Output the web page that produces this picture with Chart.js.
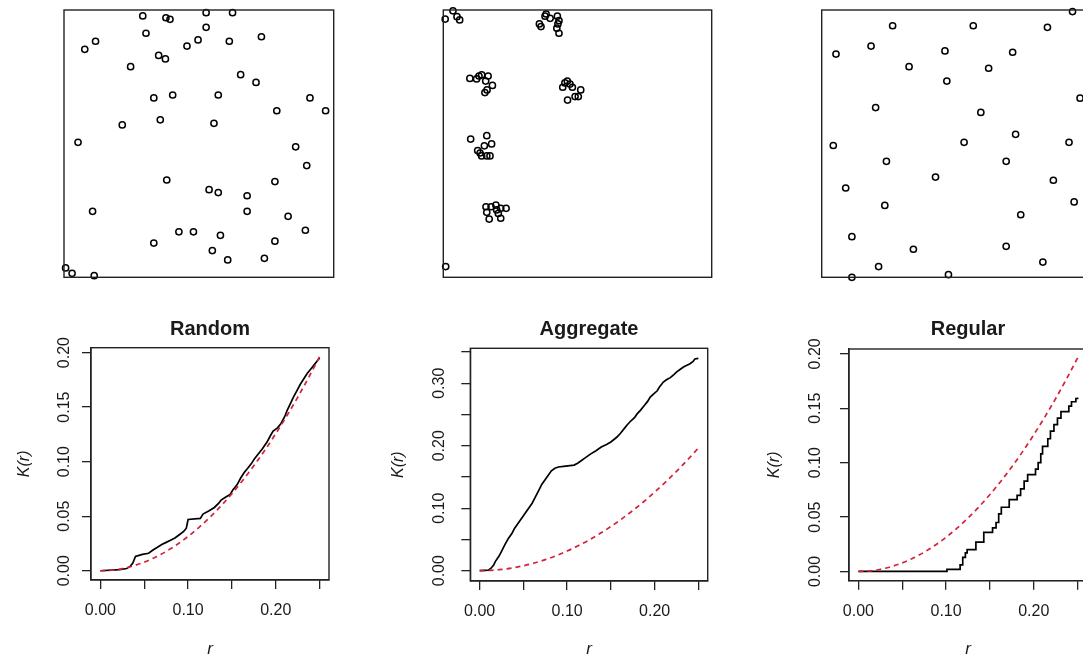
<!DOCTYPE html>
<html>
<head>
<meta charset="utf-8">
<script src="https://cdn.jsdelivr.net/npm/chart.js@4.4.1/dist/chart.umd.min.js"></script>
<style>
  html, body { margin: 0; padding: 0; background: #fff; }
  body { width: 1083px; height: 657px; overflow: hidden; position: relative; }
  canvas { position: absolute; }
</style>
</head>
<body>
<script>
// point patterns on the unit square
const randomX = [0.292, 0.378, 0.393, 0.527, 0.625, 0.527, 0.304, 0.117, 0.077, 0.497, 0.456, 0.613, 0.732, 0.351, 0.376, 0.247, 0.655, 0.712, 0.333, 0.403, 0.572, 0.912, 0.789, 0.970, 0.216, 0.357, 0.556, 0.052, 0.859, 0.900, 0.381, 0.782, 0.538, 0.572, 0.679, 0.106, 0.679, 0.831, 0.426, 0.480, 0.580, 0.895, 0.333, 0.782, 0.550, 0.607, 0.743, 0.006, 0.030, 0.112];
const randomY = [0.978, 0.971, 0.965, 0.990, 0.990, 0.935, 0.913, 0.883, 0.853, 0.888, 0.865, 0.883, 0.900, 0.830, 0.817, 0.788, 0.758, 0.729, 0.671, 0.682, 0.682, 0.671, 0.623, 0.623, 0.570, 0.589, 0.576, 0.505, 0.488, 0.418, 0.364, 0.358, 0.328, 0.317, 0.305, 0.247, 0.247, 0.228, 0.170, 0.170, 0.157, 0.176, 0.128, 0.135, 0.100, 0.065, 0.071, 0.035, 0.015, 0.006];

const aggregateX = [0.007, 0.036, 0.051, 0.061,
  0.379, 0.364, 0.358, 0.425, 0.431, 0.423, 0.431, 0.398, 0.383, 0.427,
  0.099, 0.124, 0.143, 0.158, 0.183, 0.163, 0.155, 0.133, 0.167,
  0.462, 0.445, 0.481, 0.512, 0.503, 0.491, 0.463, 0.453, 0.472,
  0.102, 0.162, 0.180, 0.153, 0.128, 0.143, 0.162, 0.174, 0.137,
  0.159, 0.178, 0.196, 0.214, 0.234, 0.162, 0.171, 0.205, 0.214, 0.199,
  0.009];
const aggregateY = [0.966, 0.997, 0.975, 0.963,
  0.977, 0.938, 0.948, 0.977, 0.960, 0.932, 0.913, 0.969, 0.985, 0.948,
  0.744, 0.742, 0.757, 0.734, 0.718, 0.701, 0.691, 0.753, 0.753,
  0.734, 0.711, 0.711, 0.701, 0.676, 0.676, 0.663, 0.727, 0.723,
  0.517, 0.530, 0.499, 0.492, 0.474, 0.454, 0.454, 0.454, 0.465,
  0.264, 0.264, 0.270, 0.258, 0.258, 0.243, 0.218, 0.239, 0.221, 0.252,
  0.040];

const regularX = [0.930, 0.263, 0.562, 0.837, 0.183, 0.053, 0.457, 0.708, 0.324, 0.619, 0.464, 0.958, 0.200, 0.590, 0.719, 0.043, 0.528, 0.917, 0.240, 0.684, 0.422, 0.089, 0.859, 0.234, 0.936, 0.738, 0.112, 0.340, 0.684, 0.820, 0.211, 0.112, 0.470];
const regularY = [0.994, 0.941, 0.941, 0.935, 0.865, 0.835, 0.847, 0.842, 0.788, 0.782, 0.734, 0.670, 0.635, 0.617, 0.535, 0.493, 0.505, 0.505, 0.434, 0.434, 0.375, 0.334, 0.363, 0.269, 0.282, 0.234, 0.152, 0.105, 0.116, 0.057, 0.040, 0.000, 0.010];

// K functions: theoretical (dashed) and observed
const rTheo = [0, 0.0125, 0.025, 0.0375, 0.05, 0.0625, 0.075, 0.0875, 0.1, 0.1125, 0.125, 0.1375, 0.15, 0.1625, 0.175, 0.1875, 0.2, 0.2125, 0.225, 0.2375, 0.25];
const kTheo = [0, 0.0005, 0.002, 0.0044, 0.0079, 0.0123, 0.0177, 0.0241, 0.0314, 0.0398, 0.0491, 0.0594, 0.0707, 0.0830, 0.0962, 0.1104, 0.1257, 0.1419, 0.1590, 0.1772, 0.1963];

const rRandom = [0, 0.022, 0.030, 0.034, 0.037, 0.040, 0.048, 0.055, 0.060, 0.066, 0.070, 0.075, 0.080, 0.085, 0.090, 0.095, 0.098, 0.100, 0.114, 0.117, 0.124, 0.130, 0.135, 0.138, 0.144, 0.148, 0.151, 0.156, 0.160, 0.164, 0.168, 0.172, 0.176, 0.180, 0.185, 0.190, 0.194, 0.197, 0.202, 0.206, 0.210, 0.213, 0.216, 0.220, 0.224, 0.228, 0.232, 0.236, 0.240, 0.244, 0.247, 0.250];
const kRandom = [0, 0.001, 0.002, 0.004, 0.007, 0.013, 0.015, 0.016, 0.019, 0.022, 0.024, 0.026, 0.028, 0.030, 0.033, 0.036, 0.039, 0.047, 0.048, 0.052, 0.055, 0.058, 0.062, 0.065, 0.068, 0.070, 0.074, 0.079, 0.085, 0.090, 0.094, 0.098, 0.103, 0.107, 0.112, 0.118, 0.124, 0.128, 0.131, 0.135, 0.141, 0.147, 0.152, 0.159, 0.165, 0.171, 0.176, 0.181, 0.185, 0.189, 0.192, 0.195];

const rAggregate = [0, 0.010, 0.013, 0.016, 0.018, 0.022, 0.025, 0.029, 0.033, 0.037, 0.040, 0.044, 0.048, 0.052, 0.056, 0.060, 0.063, 0.067, 0.071, 0.075, 0.078, 0.082, 0.086, 0.090, 0.096, 0.108, 0.112, 0.116, 0.121, 0.127, 0.133, 0.139, 0.145, 0.150, 0.157, 0.161, 0.165, 0.169, 0.173, 0.177, 0.180, 0.184, 0.188, 0.192, 0.195, 0.199, 0.203, 0.206, 0.210, 0.214, 0.218, 0.222, 0.225, 0.229, 0.233, 0.237, 0.240, 0.244, 0.246, 0.250];
const kAggregate = [0, 0.001, 0.004, 0.009, 0.015, 0.023, 0.031, 0.042, 0.052, 0.060, 0.068, 0.076, 0.084, 0.092, 0.100, 0.108, 0.116, 0.127, 0.138, 0.146, 0.152, 0.160, 0.164, 0.166, 0.167, 0.169, 0.172, 0.176, 0.181, 0.187, 0.192, 0.198, 0.202, 0.206, 0.214, 0.220, 0.227, 0.234, 0.240, 0.245, 0.251, 0.257, 0.264, 0.271, 0.278, 0.283, 0.288, 0.295, 0.302, 0.306, 0.309, 0.314, 0.318, 0.322, 0.326, 0.329, 0.331, 0.335, 0.339, 0.340];

const rRegular = [0, 0.101, 0.116, 0.119, 0.122, 0.124, 0.134, 0.143, 0.153, 0.157, 0.160, 0.163, 0.172, 0.181, 0.185, 0.189, 0.193, 0.202, 0.205, 0.208, 0.210, 0.216, 0.219, 0.223, 0.227, 0.231, 0.240, 0.243, 0.248, 0.250];
const kRegular = [0, 0.002, 0.006, 0.013, 0.017, 0.020, 0.027, 0.036, 0.040, 0.045, 0.053, 0.059, 0.066, 0.070, 0.076, 0.083, 0.089, 0.094, 0.100, 0.108, 0.115, 0.122, 0.129, 0.135, 0.141, 0.147, 0.152, 0.156, 0.159, 0.160];

// axis ticks
const rTicks = [0, 0.05, 0.10, 0.15, 0.20, 0.25];
const rTickLabels = ['0.00', '', '0.10', '', '0.20', ''];
const kTicksSmall = [0, 0.05, 0.10, 0.15, 0.20];
const kTickLabelsSmall = ['0.00', '0.05', '0.10', '0.15', '0.20'];
const kTicksLarge = [0, 0.05, 0.10, 0.15, 0.20, 0.25, 0.30, 0.35];
const kTickLabelsLarge = ['0.00', '', '0.10', '', '0.20', '', '0.30', ''];

const ink = '#1a1a1a';
const red = '#d2233c';
Chart.defaults.font.family = '"Liberation Sans", Arial, sans-serif';
Chart.defaults.color = ink;

const frame = {
  id: 'frame',
  afterDraw(chart) {
    const { ctx, chartArea: a } = chart;
    ctx.save();
    ctx.strokeStyle = '#222';
    ctx.lineWidth = 1.4;
    ctx.strokeRect(a.left, a.top, a.right - a.left, a.bottom - a.top);
    ctx.restore();
  }
};

function makeCanvas(left, top, w, h) {
  const c = document.createElement('canvas');
  c.width = w;
  c.height = h;
  c.style.left = left + 'px';
  c.style.top = top + 'px';
  c.style.width = w + 'px';
  c.style.height = h + 'px';
  document.body.appendChild(c);
  return c;
}

const toPts = (xs, ys) => xs.map((x, i) => ({ x, y: ys[i] }));

function drawPattern(xs, ys, p) {
  new Chart(makeCanvas(p.left, 0, p.w, 300), {
    type: 'scatter',
    data: {
      datasets: [{
        data: toPts(xs, ys),
        pointRadius: 3.1,
        pointBorderWidth: 1.5,
        pointBorderColor: '#000',
        pointBackgroundColor: 'rgba(0,0,0,0)',
        clip: false
      }]
    },
    options: {
      responsive: false,
      animation: false,
      events: [],
      layout: { padding: p.pad },
      plugins: { legend: { display: false }, tooltip: { enabled: false } },
      scales: {
        x: { type: 'linear', display: false, min: 0, max: 1 },
        y: { type: 'linear', display: false, min: 0, max: 1 }
      }
    },
    plugins: [frame]
  });
}

function drawK(title, rObs, kObs, stepped, yRange, yTicks, yLabels, p) {
  new Chart(makeCanvas(p.left, 300, p.w, 365), {
    type: 'line',
    data: {
      datasets: [
        {
          data: toPts(rTheo, kTheo),
          borderColor: red,
          borderWidth: 1.7,
          borderDash: [5, 4],
          pointRadius: 0,
          cubicInterpolationMode: 'monotone'
        },
        {
          data: toPts(rObs, kObs),
          borderColor: '#000',
          borderWidth: 1.7,
          pointRadius: 0,
          stepped: stepped
        }
      ]
    },
    options: {
      responsive: false,
      animation: false,
      events: [],
      layout: { padding: { left: 0, right: p.padRight, top: 0, bottom: 0 } },
      plugins: {
        legend: { display: false },
        tooltip: { enabled: false },
        title: {
          display: true,
          text: title,
          fullSize: false,
          color: ink,
          font: { size: 20, weight: 'bold' },
          padding: { top: 17.7, bottom: p.titleBottom }
        }
      },
      scales: {
        x: {
          type: 'linear',
          min: -0.0107,
          max: 0.2607,
          afterBuildTicks: s => { s.ticks = rTicks.map(v => ({ value: v })); },
          afterFit: s => { s.height = p.xAxisH; },
          ticks: { autoSkip: false, maxRotation: 0, padding: 12, font: { size: 16 }, callback: (v, i) => rTickLabels[i] },
          grid: { drawOnChartArea: false, tickLength: 9, color: '#222', lineWidth: 1.3 },
          border: { color: '#222', width: 1.3 },
          title: { display: true, text: 'r', color: ink, font: { size: 17, style: 'italic' }, padding: { top: 0, bottom: 5.2 } }
        },
        y: {
          type: 'linear',
          min: yRange[0],
          max: yRange[1],
          afterBuildTicks: s => { s.ticks = yTicks.map(v => ({ value: v })); },
          afterFit: s => { s.width = p.yAxisW; },
          ticks: { autoSkip: false, minRotation: 90, maxRotation: 90, crossAlign: 'center', padding: p.yTickPad, font: { size: 16 }, callback: (v, i) => yLabels[i] },
          grid: { drawOnChartArea: false, tickLength: 9, color: '#222', lineWidth: 1.3 },
          border: { color: '#222', width: 1.3 },
          title: { display: true, text: 'K(r)', color: ink, font: { size: 16, style: 'italic' }, padding: { top: p.yTitlePad, bottom: 0 } }
        }
      }
    },
    plugins: [frame]
  });
}

drawPattern(randomX, randomY, { left: 0, w: 361, pad: { left: 64, right: 27.3, top: 10, bottom: 22.7 } });
drawPattern(aggregateX, aggregateY, { left: 361, w: 361, pad: { left: 82.3, right: 10.3, top: 10, bottom: 22.7 } });
drawPattern(regularX, regularY, { left: 722, w: 380, pad: { left: 99.7, right: 10.6, top: 10, bottom: 22.7 } });

drawK('Random', rRandom, kRandom, false, [-0.0085, 0.2045], kTicksSmall, kTickLabelsSmall,
  { left: 0, w: 361, padRight: 32, titleBottom: 6, xAxisH: 85, yAxisW: 91, yTickPad: 1.9, yTitlePad: 15.4 });
drawK('Aggregate', rAggregate, kAggregate, false, [-0.0165, 0.356], kTicksLarge, kTickLabelsLarge,
  { left: 361, w: 361, padRight: 14.3, titleBottom: 6.6, xAxisH: 84, yAxisW: 109.3, yTickPad: 6.4, yTitlePad: 27.9 });
drawK('Regular', rRegular, kRegular, true, [-0.0085, 0.2045], kTicksSmall, kTickLabelsSmall,
  { left: 722, w: 380, padRight: 15, titleBottom: 7.3, xAxisH: 84.3, yAxisW: 127, yTickPad: 8.4, yTitlePad: 42.9 });
</script>
</body>
</html>
